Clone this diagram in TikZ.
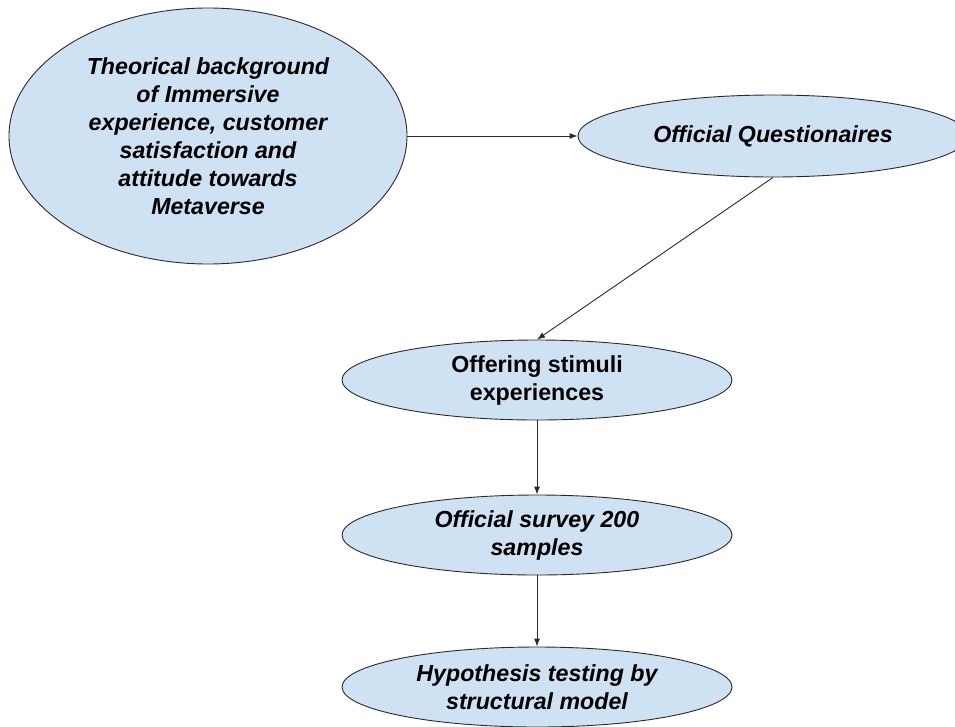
\documentclass[tikz,border=0pt]{standalone}
\usepackage{fontspec}
\setmainfont{Liberation Sans}
\usetikzlibrary{shapes.geometric,arrows.meta}
\definecolor{stepfill}{HTML}{CFE2F3}
\definecolor{stepline}{HTML}{2A2A2A}
\begin{document}
\begin{tikzpicture}[x=1pt,y=-1pt,
  stage/.style={ellipse,draw=stepline,line width=0.9pt,fill=stepfill,inner sep=0pt,
    align=center,font=\fontsize{23.2}{28}\selectfont\bfseries\itshape},
  flow/.style={draw=stepline,line width=0.9pt,-{Latex[length=8pt,width=6pt]}}]
  \clip (0,0) rectangle (955,726);
  \node[stage,minimum width=398pt,minimum height=256pt] (theory) at (208,136)
    {Theorical background\\of Immersive\\experience, customer\\satisfaction and\\attitude towards\\Metaverse};
  \node[stage,minimum width=390pt,minimum height=82pt] (quest) at (773,136)
    {Official Questionaires};
  \node[stage,minimum width=390pt,minimum height=80pt,font=\fontsize{23.2}{28}\selectfont\bfseries] (offer) at (537,380)
    {Offering stimuli\\experiences};
  \node[stage,minimum width=390pt,minimum height=80pt] (survey) at (537,535)
    {Official survey 200\\samples};
  \node[stage,minimum width=390pt,minimum height=80pt] (hypo) at (537,687)
    {Hypothesis testing by\\structural model};
  \draw[flow] (theory.east) -- (quest.west);
  \draw[flow] (quest.south) -- (offer.north);
  \draw[flow] (offer.south) -- (survey.north);
  \draw[flow] (survey.south) -- (hypo.north);
\end{tikzpicture}
\end{document}
